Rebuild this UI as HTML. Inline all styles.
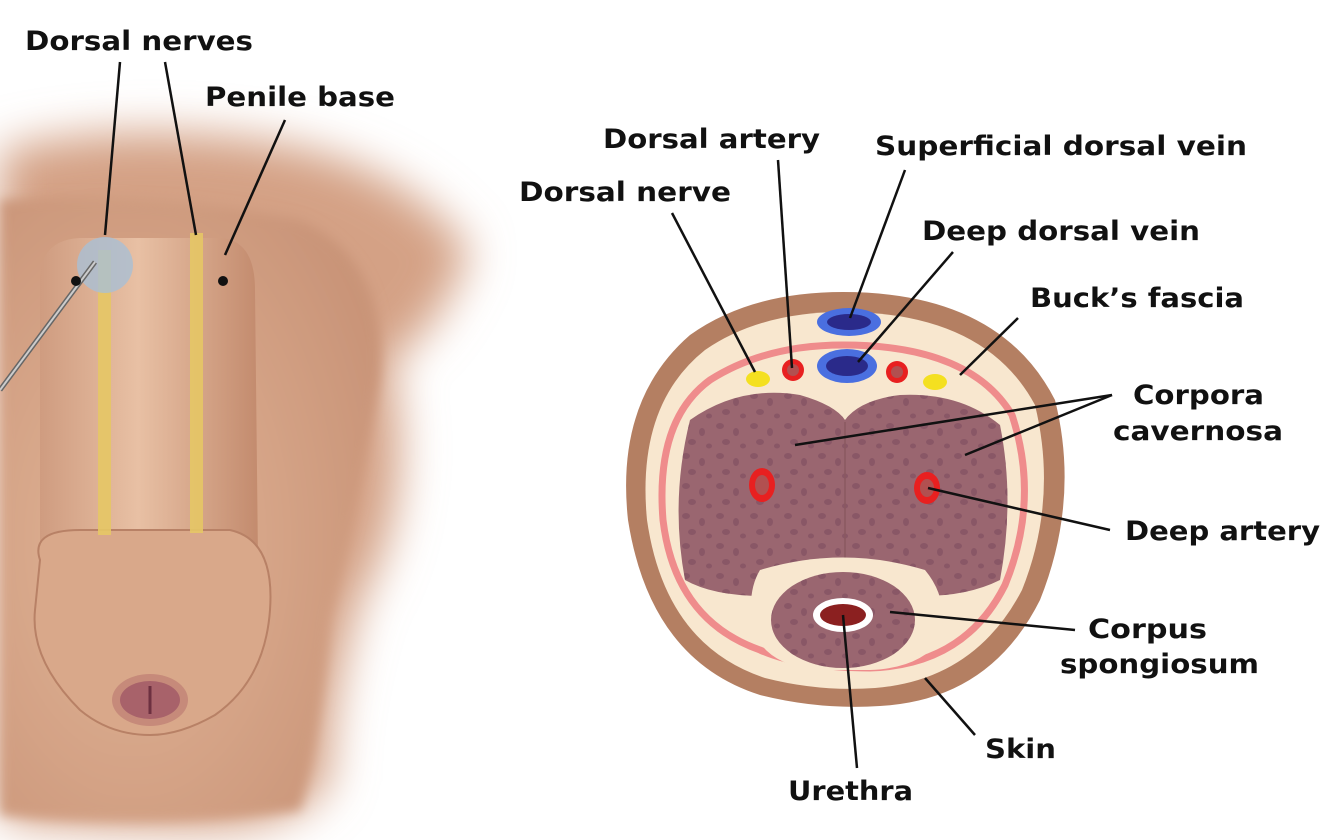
<!DOCTYPE html>
<html><head><meta charset="utf-8">
<style>
html,body{margin:0;padding:0;background:#fff;width:1327px;height:840px;overflow:hidden}
svg text{font-family:"DejaVu Sans","Liberation Sans",sans-serif;font-weight:bold;font-size:27px;fill:#111}
</style></head><body>
<svg width="1327" height="840" viewBox="0 0 1327 840" xmlns="http://www.w3.org/2000/svg">
<defs>
<filter id="blur" x="-20%" y="-20%" width="140%" height="140%"><feGaussianBlur stdDeviation="22"/></filter>
<filter id="b6" x="-10%" y="-10%" width="120%" height="120%"><feGaussianBlur stdDeviation="6"/></filter>
<radialGradient id="sk" cx="0.35" cy="0.55" r="0.7">
<stop offset="0" stop-color="#e2b597"/><stop offset="1" stop-color="#c99478"/></radialGradient>
<linearGradient id="sh" x1="0" x2="1"><stop offset="0" stop-color="#cf9c80"/><stop offset="0.45" stop-color="#e8c0a4"/><stop offset="1" stop-color="#c38b6e"/></linearGradient>
<pattern id="dots" width="34" height="30" patternUnits="userSpaceOnUse">
<ellipse cx="6" cy="6" rx="4" ry="3" fill="#7b4a5e"/><ellipse cx="22" cy="12" rx="3" ry="4" fill="#7b4a5e"/><ellipse cx="12" cy="22" rx="4" ry="3" fill="#7b4a5e"/><ellipse cx="29" cy="26" rx="3" ry="2.5" fill="#7b4a5e"/>
</pattern>
</defs>
<path d="M0 150 Q120 120 260 140 Q400 160 470 250 Q440 330 390 360 Q420 500 360 600 Q330 700 330 780 Q300 830 200 830 Q80 830 0 820 Z" fill="#d4a185" filter="url(#blur)"/>
<path d="M0 200 Q150 190 300 220 Q390 260 380 380 Q360 500 330 620 Q320 740 300 810 Q150 830 0 815 Z" fill="url(#sk)" filter="url(#b6)"/>
<path d="M40 280 Q40 240 80 238 L220 238 Q255 240 255 290 L258 560 L40 560 Z" fill="url(#sh)"/>
<path d="M40 560 Q30 530 80 530 L230 530 Q275 540 270 610 Q265 680 215 715 Q180 735 150 735 Q110 735 80 710 Q30 660 35 610 Z" fill="#d9a88a" stroke="#b88166" stroke-width="2"/>
<ellipse cx="150" cy="700" rx="38" ry="26" fill="#c68a7a"/>
<ellipse cx="150" cy="700" rx="30" ry="19" fill="#a8626a"/>
<line x1="150" y1="686" x2="150" y2="714" stroke="#6d3040" stroke-width="3"/>
<rect x="98" y="250" width="13" height="285" fill="#e6c765" opacity="0.9"/>
<rect x="190" y="233" width="13" height="300" fill="#e6c765" opacity="0.9"/>
<circle cx="105" cy="265" r="28" fill="#a9bfd5" opacity="0.8"/>
<line x1="0" y1="390" x2="95" y2="262" stroke="#666" stroke-width="5"/>
<line x1="0" y1="390" x2="95" y2="262" stroke="#ccc" stroke-width="2"/>
<circle cx="76" cy="281" r="5" fill="#111"/>
<circle cx="223" cy="281" r="5" fill="#111"/>
<line x1="120" y1="62" x2="105" y2="235" stroke="#111" stroke-width="2.5"/>
<line x1="165" y1="62" x2="196" y2="235" stroke="#111" stroke-width="2.5"/>
<line x1="285" y1="120" x2="225" y2="255" stroke="#111" stroke-width="2.5"/>
<text x="25" y="50" textLength="228" lengthAdjust="spacingAndGlyphs">Dorsal nerves</text>
<text x="205" y="106" textLength="190" lengthAdjust="spacingAndGlyphs">Penile base</text>
<path d="M843 292 Q1000 292 1055 400 Q1080 500 1040 600 Q990 700 880 706 Q820 710 760 695 Q650 660 628 520 Q615 400 690 335 Q750 292 843 292 Z" fill="#b47f62"/>
<path d="M843 312 Q985 312 1035 405 Q1058 500 1022 590 Q975 680 875 688 Q820 692 765 678 Q665 645 647 520 Q636 405 705 350 Q760 312 843 312 Z" fill="#f8e7cf"/>
<path d="M843 345 Q970 345 1012 415 Q1040 500 1005 585 Q965 665 870 668 Q800 668 760 650 Q675 620 663 520 Q655 420 710 380 Q765 345 843 345 Z" fill="none" stroke="#ef8c8c" stroke-width="7"/>
<path d="M690 420 Q740 385 800 395 Q835 405 845 420 Q860 400 900 395 Q960 392 1000 425 Q1015 500 1000 580 Q960 600 900 595 L790 595 Q720 600 685 580 Q670 500 690 420 Z" fill="#9a6670"/>
<path d="M690 420 Q740 385 800 395 Q835 405 845 420 Q860 400 900 395 Q960 392 1000 425 Q1015 500 1000 580 Q960 600 900 595 L790 595 Q720 600 685 580 Q670 500 690 420 Z" fill="url(#dots)" opacity="0.55"/>
<line x1="845" y1="422" x2="845" y2="590" stroke="#8a5860" stroke-width="1.5"/>
<path d="M760 570 Q843 545 925 570 Q950 600 940 640 Q920 668 870 670 L815 670 Q770 665 755 635 Q745 595 760 570 Z" fill="#f8e7cf"/>
<ellipse cx="843" cy="620" rx="72" ry="48" fill="#9a6670"/>
<ellipse cx="843" cy="620" rx="72" ry="48" fill="url(#dots)" opacity="0.55"/>
<ellipse cx="843" cy="615" rx="30" ry="17" fill="#fff"/>
<ellipse cx="843" cy="615" rx="23" ry="11" fill="#8b2020"/>
<ellipse cx="849" cy="322" rx="32" ry="14" fill="#4a6fe0"/><ellipse cx="849" cy="322" rx="22" ry="8" fill="#2a2a8a"/>
<ellipse cx="847" cy="366" rx="30" ry="17" fill="#4a6fe0"/><ellipse cx="847" cy="366" rx="21" ry="10" fill="#2a2a8a"/>
<circle cx="793" cy="370" r="11" fill="#e82020"/><circle cx="793" cy="370" r="6" fill="#b25050"/>
<circle cx="897" cy="372" r="11" fill="#e82020"/><circle cx="897" cy="372" r="6" fill="#b25050"/>
<ellipse cx="758" cy="379" rx="12" ry="8" fill="#f4e020"/>
<ellipse cx="935" cy="382" rx="12" ry="8" fill="#f4e020"/>
<ellipse cx="762" cy="485" rx="13" ry="17" fill="#e82020"/><ellipse cx="762" cy="485" rx="7" ry="10" fill="#b25050"/>
<ellipse cx="927" cy="488" rx="13" ry="16" fill="#e82020"/><ellipse cx="927" cy="488" rx="7" ry="9" fill="#b25050"/>
<g stroke="#111" stroke-width="2.5">
<line x1="672" y1="213" x2="755" y2="372"/>
<line x1="778" y1="160" x2="792" y2="368"/>
<line x1="905" y1="170" x2="850" y2="318"/>
<line x1="953" y1="252" x2="858" y2="362"/>
<line x1="1018" y1="318" x2="960" y2="375"/>
<line x1="1112" y1="395" x2="795" y2="445"/>
<line x1="1112" y1="395" x2="965" y2="455"/>
<line x1="1110" y1="530" x2="928" y2="488"/>
<line x1="1075" y1="630" x2="890" y2="612"/>
<line x1="975" y1="735" x2="925" y2="678"/>
<line x1="857" y1="768" x2="843" y2="615"/>
</g>
<text x="603" y="148" textLength="217" lengthAdjust="spacingAndGlyphs">Dorsal artery</text>
<text x="875" y="155" textLength="372" lengthAdjust="spacingAndGlyphs">Superficial dorsal vein</text>
<text x="519" y="201" textLength="212" lengthAdjust="spacingAndGlyphs">Dorsal nerve</text>
<text x="922" y="240" textLength="278" lengthAdjust="spacingAndGlyphs">Deep dorsal vein</text>
<text x="1030" y="307" textLength="214" lengthAdjust="spacingAndGlyphs">Buck’s fascia</text>
<text x="1133" y="404" textLength="131" lengthAdjust="spacingAndGlyphs">Corpora</text>
<text x="1113" y="440" textLength="170" lengthAdjust="spacingAndGlyphs">cavernosa</text>
<text x="1125" y="540" textLength="195" lengthAdjust="spacingAndGlyphs">Deep artery</text>
<text x="1088" y="638" textLength="119" lengthAdjust="spacingAndGlyphs">Corpus</text>
<text x="1060" y="673" textLength="199" lengthAdjust="spacingAndGlyphs">spongiosum</text>
<text x="985" y="758" textLength="71" lengthAdjust="spacingAndGlyphs">Skin</text>
<text x="788" y="800" textLength="125" lengthAdjust="spacingAndGlyphs">Urethra</text>
</svg>
</body></html>
